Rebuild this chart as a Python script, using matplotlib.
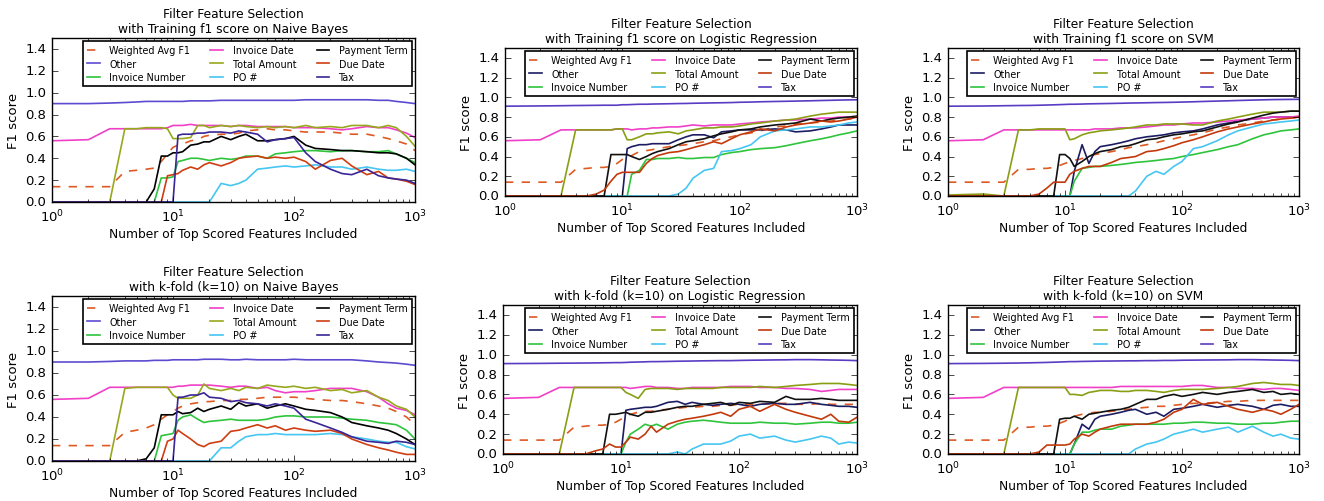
import matplotlib
matplotlib.use('Agg')
import matplotlib.pyplot as plt

plt.style.use('classic')
plt.rcParams['mathtext.fontset'] = 'dejavusans'
plt.rcParams['font.family'] = ['DejaVu Sans']

# ---------------- data ----------------
X = [1, 2, 3, 4, 5, 6, 7, 8, 9, 10, 11, 12, 14, 16, 18, 20, 25, 30, 35, 40,
     50, 60, 70, 85, 100, 125, 150, 200, 250, 300, 400, 500, 600, 700, 850, 1000]

LABELS = ['Weighted Avg F1', 'Other', 'Invoice Number', 'Invoice Date',
          'Total Amount', 'PO #', 'Payment Term', 'Due Date', 'Tax']

TITLES = ['Filter Feature Selection\nwith Training f1 score on Naive Bayes',
          'Filter Feature Selection\nwith Training f1 score on Logistic Regression',
          'Filter Feature Selection\nwith Training f1 score on SVM',
          'Filter Feature Selection\nwith k-fold (k=10) on Naive Bayes',
          'Filter Feature Selection\nwith k-fold (k=10) on Logistic Regression',
          'Filter Feature Selection\nwith k-fold (k=10) on SVM']

XLABEL = 'Number of Top Scored Features Included'
YLABEL = 'F1 score'
YTICKS = [0.0, 0.2, 0.4, 0.6, 0.8, 1.0, 1.2, 1.4]

# Panel 1: training, Naive Bayes
nb_train_wavg = [.14, .14, .14, .28, .29, .30, .31, .37, .44, .50, .52, .53, .56, .57, .60, .61, .62, .62, .63, .65,
                 .66, .67, .66, .66, .65, .64, .64, .64, .63, .62, .62, .60, .58, .56, .53, .47]
nb_train_other = [.90, .90, .905, .91, .915, .92, .92, .92, .92, .92, .92, .92, .925, .925, .925, .925, .93, .93, .93, .93,
                  .93, .93, .93, .93, .93, .935, .935, .935, .935, .935, .935, .93, .93, .92, .91, .90]
nb_train_invnum = [0, 0, 0, 0, 0, 0, 0, .22, .22, .23, .37, .38, .40, .40, .39, .38, .40, .39, .40, .42,
                   .42, .40, .44, .45, .46, .47, .47, .46, .47, .47, .46, .46, .47, .44, .40, .36]
nb_train_invdate = [.56, .57, .67, .67, .67, .67, .67, .67, .68, .70, .70, .70, .71, .70, .70, .70, .70, .69, .70, .70,
                    .69, .69, .69, .69, .68, .68, .68, .67, .66, .67, .69, .68, .68, .66, .63, .59]
nb_train_total = [0, 0, 0, .67, .67, .68, .68, .68, .67, .58, .58, .58, .59, .70, .70, .68, .70, .69, .70, .69,
                  .68, .69, .68, .69, .68, .70, .68, .69, .68, .70, .70, .68, .70, .68, .60, .51]
nb_train_po = [0, 0, 0, 0, 0, 0, 0, 0, 0, 0, 0, 0, 0, 0, 0, 0, .17, .15, .17, .20,
               .30, .31, .32, .33, .32, .33, .34, .32, .32, .30, .32, .30, .29, .29, .30, .28]
nb_train_payterm = [0, 0, 0, 0, 0, 0, .12, .42, .42, .45, .45, .46, .52, .53, .55, .55, .60, .57, .60, .62,
                    .56, .56, .57, .58, .60, .52, .49, .48, .47, .47, .46, .45, .45, .44, .40, .34]
nb_train_duedate = [0, 0, 0, 0, 0, 0, 0, 0, .24, .25, .26, .29, .32, .30, .34, .36, .33, .36, .40, .41,
                    .42, .40, .41, .40, .41, .37, .30, .38, .40, .33, .25, .28, .22, .21, .19, .16]
nb_train_tax = [0, 0, 0, 0, 0, 0, 0, 0, 0, 0, .61, .62, .62, .63, .63, .64, .64, .63, .65, .64,
                .62, .55, .57, .58, .59, .45, .37, .30, .26, .25, .30, .24, .22, .21, .20, .17]

# Panel 2: training, Logistic Regression
lr_train_wavg = [.14, .14, .14, .27, .28, .29, .29, .30, .33, .37, .39, .41, .45, .46, .47, .48, .50, .51, .52, .53,
                 .55, .56, .58, .60, .62, .64, .66, .70, .71, .73, .74, .75, .76, .77, .78, .79]
lr_train_other = [0, 0, 0, 0, 0, 0, 0, 0, 0, 0, .48, .50, .52, .52, .53, .53, .53, .57, .60, .62,
                  .62, .59, .65, .66, .67, .67, .67, .68, .67, .65, .66, .68, .70, .72, .72, .72]
lr_train_invnum = [0, 0, 0, 0, 0, 0, 0, 0, 0, 0, 0, .22, .26, .37, .37, .38, .38, .39, .38, .38,
                   .39, .39, .42, .44, .45, .47, .48, .49, .51, .53, .56, .58, .60, .62, .64, .66]
lr_train_invdate = [.56, .57, .67, .67, .67, .67, .67, .67, .68, .68, .68, .67, .68, .68, .69, .69, .70, .70, .71, .72,
                    .71, .72, .72, .72, .73, .74, .75, .76, .77, .77, .78, .79, .79, .80, .80, .80]
lr_train_total = [0, 0, 0, .67, .67, .67, .67, .67, .68, .68, .57, .57, .60, .63, .63, .64, .65, .63, .66, .67,
                  .69, .69, .70, .70, .71, .73, .74, .76, .77, .78, .81, .83, .84, .85, .85, .85]
lr_train_po = [0, 0, 0, 0, 0, 0, 0, 0, 0, 0, 0, 0, 0, 0, 0, 0, 0, .02, .08, .18,
               .26, .28, .45, .46, .48, .52, .60, .66, .67, .68, .70, .70, .71, .72, .74, .75]
lr_train_payterm = [0, 0, 0, 0, 0, 0, 0, .42, .42, .42, .42, .40, .37, .40, .43, .45, .48, .52, .55, .56,
                    .58, .61, .63, .65, .67, .68, .70, .72, .73, .74, .78, .76, .78, .79, .80, .81]
lr_train_duedate = [0, 0, 0, 0, 0, .02, .06, .15, .22, .24, .24, .24, .24, .33, .38, .41, .44, .45, .47, .49,
                    .52, .55, .53, .58, .62, .65, .68, .66, .70, .72, .74, .76, .75, .76, .78, .80]
lr_train_tax = [.91, .913, .915, .917, .918, .919, .92, .92, .92, .925, .925, .927, .93, .93, .932, .933, .935, .937, .938, .94,
                .942, .944, .945, .947, .95, .952, .955, .958, .96, .962, .965, .968, .97, .972, .974, .975]

# Panel 3: training, SVM
svm_train_wavg = [.14, .14, .14, .27, .27, .28, .28, .29, .31, .33, .35, .36, .38, .40, .42, .43, .45, .47, .49, .50,
                  .52, .54, .56, .58, .60, .62, .64, .68, .70, .72, .74, .76, .77, .78, .79, .80]
svm_train_other = [0, 0, 0, 0, 0, 0, 0, 0, 0, 0, 0, .25, .52, .33, .45, .50, .52, .54, .56, .58,
                   .60, .61, .62, .64, .65, .66, .68, .72, .74, .76, .78, .79, .80, .80, .80, .80]
svm_train_invnum = [0, 0, 0, 0, 0, 0, 0, 0, 0, 0, 0, .15, .28, .29, .30, .30, .31, .32, .33, .34,
                    .35, .36, .37, .38, .40, .42, .44, .47, .50, .52, .58, .62, .64, .66, .67, .68]
svm_train_invdate = [.56, .57, .67, .67, .67, .67, .67, .67, .67, .67, .67, .67, .67, .67, .68, .68, .68, .69, .69, .69,
                     .70, .71, .72, .72, .73, .74, .74, .75, .76, .77, .78, .79, .80, .80, .80, .81]
svm_train_total = [.01, .02, 0, .67, .67, .68, .68, .68, .68, .68, .57, .58, .62, .64, .65, .66, .67, .68, .69, .70,
                   .72, .72, .73, .73, .73, .72, .72, .76, .78, .80, .83, .85, .85, .85, .86, .86]
svm_train_po = [0, 0, 0, 0, 0, 0, 0, 0, 0, 0, 0, 0, 0, 0, 0, 0, 0, 0, 0, .05,
                .20, .25, .22, .30, .35, .48, .50, .56, .62, .66, .70, .73, .74, .75, .76, .77]
svm_train_payterm = [0, 0, 0, 0, 0, 0, 0, 0, .42, .42, .38, .30, .35, .40, .43, .45, .47, .50, .51, .53,
                     .57, .58, .60, .62, .63, .65, .66, .70, .73, .75, .79, .82, .84, .85, .86, .86]
svm_train_duedate = [0, 0, 0, 0, 0, .02, .08, .14, .14, .14, .22, .25, .28, .30, .30, .30, .34, .38, .39, .40,
                     .45, .46, .48, .51, .54, .57, .60, .65, .68, .70, .73, .75, .77, .78, .79, .80]
svm_train_tax = [.91, .912, .915, .917, .918, .92, .922, .924, .926, .928, .93, .93, .932, .934, .935, .936, .938, .94, .942, .943,
                 .945, .947, .948, .95, .952, .955, .958, .962, .965, .968, .972, .975, .977, .978, .979, .98]

# Panel 4: k-fold, Naive Bayes
nb_kfold_wavg = [.14, .14, .14, .26, .28, .30, .33, .38, .42, .45, .48, .50, .52, .53, .54, .54, .55, .55, .56, .56,
                 .57, .58, .58, .58, .58, .57, .56, .55, .55, .54, .52, .50, .48, .45, .40, .33]
nb_kfold_other = [.90, .90, .905, .91, .91, .91, .915, .915, .915, .92, .92, .92, .92, .92, .925, .925, .925, .92, .92, .925,
                  .92, .92, .92, .92, .925, .92, .92, .92, .92, .92, .91, .90, .895, .89, .88, .87]
nb_kfold_invnum = [0, 0, 0, 0, 0, 0, 0, .23, .24, .25, .37, .40, .42, .38, .35, .36, .37, .38, .37, .37,
                   .37, .38, .40, .41, .41, .40, .40, .40, .39, .38, .37, .35, .34, .33, .28, .20]
nb_kfold_invdate = [.56, .57, .67, .67, .67, .67, .67, .67, .67, .67, .68, .68, .69, .69, .69, .69, .68, .67, .68, .68,
                    .66, .67, .64, .62, .63, .63, .64, .66, .66, .66, .63, .58, .52, .48, .46, .42]
nb_kfold_total = [0, 0, 0, .66, .67, .67, .67, .67, .67, .60, .57, .57, .57, .60, .70, .66, .64, .66, .64, .67,
                  .66, .69, .68, .67, .68, .66, .67, .64, .65, .62, .64, .58, .55, .50, .47, .40]
nb_kfold_po = [0, 0, 0, 0, 0, 0, 0, 0, 0, 0, 0, 0, 0, 0, 0, 0, .12, .12, .18, .22,
               .24, .24, .25, .24, .24, .24, .24, .25, .24, .22, .20, .18, .17, .17, .13, .11]
nb_kfold_payterm = [0, 0, 0, 0, 0, .02, .12, .42, .42, .42, .45, .43, .44, .48, .45, .47, .50, .47, .53, .50,
                    .52, .48, .50, .52, .50, .47, .46, .44, .40, .35, .32, .30, .28, .25, .20, .15]
nb_kfold_duedate = [0, 0, 0, 0, 0, 0, 0, 0, .18, .20, .28, .25, .20, .15, .13, .16, .18, .27, .28, .30,
                    .33, .30, .32, .28, .30, .28, .27, .28, .25, .20, .15, .12, .10, .08, .06, .06]
nb_kfold_tax = [0, 0, 0, 0, 0, 0, 0, 0, 0, 0, .58, .58, .60, .60, .62, .58, .57, .54, .55, .53,
                .52, .50, .52, .50, .48, .38, .35, .30, .26, .22, .18, .17, .16, .18, .17, .15]

# Panel 5: k-fold, Logistic Regression
lr_kfold_wavg = [.14, .14, .14, .27, .28, .29, .29, .30, .32, .35, .38, .40, .42, .43, .43, .44, .45, .46, .47, .47,
                 .48, .48, .49, .49, .50, .50, .50, .51, .51, .50, .50, .51, .50, .50, .50, .50]
lr_kfold_other = [0, 0, 0, 0, 0, 0, 0, 0, 0, 0, .44, .45, .46, .47, .47, .48, .52, .53, .50, .52,
                  .50, .49, .50, .51, .50, .48, .50, .51, .50, .50, .52, .50, .49, .48, .48, .47]
lr_kfold_invnum = [0, 0, 0, 0, 0, 0, 0, 0, 0, 0, .12, .20, .25, .30, .28, .30, .25, .30, .32, .33,
                   .34, .33, .32, .31, .31, .31, .32, .31, .31, .30, .31, .32, .32, .31, .31, .32]
lr_kfold_invdate = [.56, .57, .67, .67, .67, .67, .67, .67, .67, .67, .67, .66, .67, .68, .68, .67, .67, .66, .66, .67,
                    .67, .67, .67, .68, .68, .68, .67, .67, .66, .66, .65, .63, .64, .65, .65, .65]
lr_kfold_total = [0, 0, 0, .67, .67, .67, .67, .67, .67, .67, .62, .60, .56, .65, .66, .66, .66, .65, .66, .66,
                  .66, .66, .67, .67, .67, .67, .68, .67, .68, .69, .70, .71, .71, .71, .70, .69]
lr_kfold_po = [0, 0, 0, 0, 0, 0, 0, 0, 0, 0, 0, 0, 0, 0, 0, 0, 0, .02, 0, .05,
               .10, .10, .10, .13, .18, .20, .16, .18, .14, .12, .15, .18, .16, .10, .12, .11]
lr_kfold_payterm = [0, 0, 0, 0, 0, 0, 0, .40, .40, .41, .42, .40, .38, .42, .42, .43, .45, .47, .48, .48,
                    .50, .51, .52, .49, .52, .51, .53, .52, .58, .55, .55, .56, .55, .54, .54, .54]
lr_kfold_duedate = [0, 0, 0, 0, 0, .03, .05, .10, .07, .07, .12, .17, .15, .20, .28, .22, .30, .33, .35, .36,
                    .38, .40, .42, .38, .45, .48, .43, .50, .45, .42, .38, .35, .40, .33, .32, .37]
lr_kfold_tax = [.91, .912, .914, .915, .916, .917, .918, .919, .92, .92, .922, .924, .926, .928, .93, .93, .932, .934, .935, .936,
                .938, .939, .94, .94, .942, .944, .945, .947, .948, .95, .95, .948, .946, .945, .943, .94]

# Panel 6: k-fold, SVM
svm_kfold_wavg = [.14, .14, .14, .27, .27, .28, .28, .29, .31, .33, .36, .38, .40, .41, .42, .42, .43, .44, .45, .46,
                  .47, .48, .48, .49, .50, .51, .51, .52, .53, .53, .54, .54, .54, .54, .54, .54]
svm_kfold_other = [0, 0, 0, 0, 0, 0, 0, 0, 0, 0, 0, .10, .30, .25, .35, .38, .40, .42, .44, .45,
                   .40, .42, .38, .45, .46, .48, .50, .47, .49, .50, .48, .45, .49, .50, .48, .48]
svm_kfold_invnum = [0, 0, 0, 0, 0, 0, 0, 0, 0, 0, 0, .10, .22, .22, .24, .25, .25, .28, .29, .30,
                    .30, .30, .30, .31, .31, .32, .32, .31, .31, .30, .30, .31, .31, .32, .33, .33]
svm_kfold_invdate = [.56, .57, .67, .67, .67, .67, .67, .67, .67, .67, .67, .67, .67, .67, .67, .67, .67, .68, .68, .68,
                     .68, .68, .68, .68, .68, .69, .69, .67, .67, .66, .66, .65, .66, .66, .65, .64]
svm_kfold_total = [0, 0, 0, .67, .67, .67, .67, .67, .67, .67, .60, .60, .59, .62, .63, .64, .64, .63, .63, .64,
                   .64, .63, .62, .64, .65, .65, .65, .66, .67, .68, .71, .72, .71, .70, .70, .69]
svm_kfold_po = [0, 0, 0, 0, 0, 0, 0, 0, 0, 0, 0, 0, 0, 0, 0, 0, 0, 0, 0, .05,
                .10, .12, .15, .20, .22, .25, .22, .25, .27, .22, .28, .22, .18, .20, .16, .15]
svm_kfold_payterm = [0, 0, 0, 0, 0, 0, 0, 0, .35, .36, .36, .38, .35, .40, .41, .42, .44, .45, .47, .50,
                     .55, .55, .58, .60, .58, .60, .62, .60, .62, .63, .65, .62, .63, .60, .61, .60]
svm_kfold_duedate = [0, 0, 0, 0, 0, .02, .09, .09, .09, .09, .10, .15, .20, .18, .22, .25, .28, .30, .30, .30,
                     .30, .32, .35, .42, .45, .55, .50, .52, .48, .45, .42, .45, .43, .40, .45, .50]
svm_kfold_tax = [.91, .912, .914, .916, .918, .92, .922, .924, .926, .928, .93, .93, .932, .933, .934, .935, .936, .937, .938, .938,
                 .94, .94, .942, .942, .944, .945, .946, .947, .948, .95, .95, .948, .946, .945, .943, .94]

PANELS = [
    [nb_train_wavg, nb_train_other, nb_train_invnum, nb_train_invdate, nb_train_total,
     nb_train_po, nb_train_payterm, nb_train_duedate, nb_train_tax],
    [lr_train_wavg, lr_train_other, lr_train_invnum, lr_train_invdate, lr_train_total,
     lr_train_po, lr_train_payterm, lr_train_duedate, lr_train_tax],
    [svm_train_wavg, svm_train_other, svm_train_invnum, svm_train_invdate, svm_train_total,
     svm_train_po, svm_train_payterm, svm_train_duedate, svm_train_tax],
    [nb_kfold_wavg, nb_kfold_other, nb_kfold_invnum, nb_kfold_invdate, nb_kfold_total,
     nb_kfold_po, nb_kfold_payterm, nb_kfold_duedate, nb_kfold_tax],
    [lr_kfold_wavg, lr_kfold_other, lr_kfold_invnum, lr_kfold_invdate, lr_kfold_total,
     lr_kfold_po, lr_kfold_payterm, lr_kfold_duedate, lr_kfold_tax],
    [svm_kfold_wavg, svm_kfold_other, svm_kfold_invnum, svm_kfold_invdate, svm_kfold_total,
     svm_kfold_po, svm_kfold_payterm, svm_kfold_duedate, svm_kfold_tax],
]

# ---------------- styling ----------------
COLORS_NB = ['#dd5a24', '#5c4bd0', '#2ec43c', '#f040c8', '#98a81c', '#46c6f2', '#000000', '#cf3e10', '#3a2596']
COLORS_OT = ['#dd5a24', '#1c1c62', '#2ec43c', '#f040c8', '#8a9e14', '#46c6f2', '#111111', '#c23a0c', '#5a3cc4']
STYLES = ['--', '-', '-', '-', '-', '-', '-', '-', '-']

W, H = 1324, 502
# axes boxes in pixels: left, top, right, bottom
BOXES = [(52, 39, 415, 203), (505, 49, 857, 197), (948, 49, 1299, 197),
         (52, 297, 415, 462), (503, 306, 857, 455), (948, 306, 1299, 455)]

fig = plt.figure(figsize=(W / 100, H / 100), dpi=100, facecolor='white')

for i, (box, series) in enumerate(zip(BOXES, PANELS)):
    l, t, r, b = box
    ax = fig.add_axes([l / W, 1 - b / H, (r - l) / W, (b - t) / H])
    ax.set_facecolor('white')
    colors = COLORS_NB if i % 3 == 0 else COLORS_OT
    for lab, ys, c, ls in zip(LABELS, series, colors, STYLES):
        ax.plot(X, ys, ls, color=c, lw=1.2, label=lab)
    ax.set_xscale('log')
    ax.set_xlim(1, 1000)
    ax.set_ylim(0, 1.5)
    ax.set_yticks(YTICKS)
    ax.tick_params(labelsize=9.5, direction='in')
    ax.set_title(TITLES[i], fontsize=8.8, pad=4)
    ax.set_xlabel(XLABEL, fontsize=8.8, labelpad=2)
    ax.set_ylabel(YLABEL, fontsize=9.5, labelpad=4)
    leg = ax.legend(loc='upper right', ncol=3, fontsize=6.9, frameon=True, fancybox=False,
                    borderaxespad=0.35, handlelength=1.35, handletextpad=1.0,
                    columnspacing=2.1, labelspacing=0.35, numpoints=1)
    leg.get_frame().set_edgecolor('black')
    leg.get_frame().set_linewidth(1.2)

fig.savefig('out.png', dpi=100, facecolor='white')
